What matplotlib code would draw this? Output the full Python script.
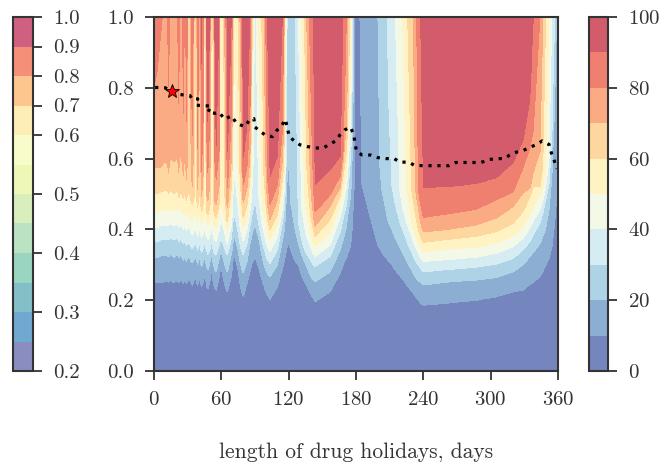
import matplotlib
matplotlib.use("Agg")
import matplotlib.pyplot as plt
import numpy as np
from matplotlib.cm import ScalarMappable
from matplotlib.colors import BoundaryNorm, ListedColormap

plt.rcParams['font.family'] = ['cmr10', 'DejaVu Serif']
plt.rcParams['axes.unicode_minus'] = False
plt.rcParams['axes.formatter.use_mathtext'] = True

# N = contour not reached inside the plot
N = 3.0

# contour heights: one row per day,
# columns are the heights of the 10, 20, ... 90 % contours
contour_rows = [
    (0, [.249, .319, .365, .403, .45, .50, .573, .80, N]),
    (3, [.249, .32, .365, .405, .45, .50, .573, .85, N]),
    (6, [.25, .325, .37, .41, .455, .505, .575, .95, N]),
    (7.4, [.25, .325, .37, .41, .455, .505, .58, 1.0, N]),
    (9, [.252, .327, .37, .41, .455, .51, .59, N, N]),
    (12, [.253, .325, .372, .41, .455, .51, .585, 1.0, N]),
    (13, [.25, .322, .37, .41, .45, .50, .56, .80, N]),
    (14, [.254, .328, .375, .415, .46, .51, .59, 1.0, N]),
    (15, [.256, .33, .375, .415, .46, .51, .60, N, N]),
    (17.5, [.25, .32, .37, .41, .45, .50, .59, N, N]),
    (21, [.256, .33, .375, .415, .46, .51, .60, 1.0, N]),
    (22, [.25, .32, .365, .405, .45, .49, .56, .75, N]),
    (23, [.255, .325, .37, .41, .455, .50, .60, 1.0, N]),
    (24, [.256, .325, .37, .41, .455, .505, .61, N, N]),
    (25.3, [.25, .32, .365, .405, .45, .495, .58, 1.0, N]),
    (26.2, [.248, .312, .36, .40, .44, .485, .55, .72, N]),
    (27, [.255, .32, .365, .405, .45, .50, .60, 1.0, N]),
    (27.5, [.257, .32, .365, .405, .45, .50, .62, N, N]),
    (28.2, [.25, .315, .36, .40, .44, .49, .58, 1.0, N]),
    (29, [.247, .31, .355, .395, .435, .48, .54, .70, N]),
    (29.8, [.255, .32, .36, .405, .445, .50, .60, 1.0, N]),
    (31.5, [.26, .32, .36, .405, .445, .50, N, N, N]),
    (33, [.25, .31, .35, .39, .43, .48, .60, 1.0, N]),
    (34, [.242, .305, .345, .385, .425, .47, .52, .66, N]),
    (35, [.25, .31, .35, .39, .43, .48, .60, 1.0, N]),
    (35.7, [.256, .315, .355, .395, .44, .49, 1.0, N, N]),
    (37, [.262, .32, .36, .40, .445, .90, N, N, N]),
    (38.2, [.25, .31, .35, .39, .43, .48, 1.0, N, N]),
    (38.7, [.24, .30, .34, .38, .42, .46, .51, .62, N]),
    (40, [.256, .315, .355, .395, .44, .49, .60, 1.0, N]),
    (40.7, [.265, .32, .36, .40, .445, .50, N, N, N]),
    (41.5, [.25, .305, .345, .385, .43, .47, .60, 1.0, N]),
    (42.4, [.238, .295, .335, .375, .415, .45, .49, .56, .85]),
    (43.7, [.25, .305, .345, .385, .43, .47, .55, .70, N]),
    (44.5, [.26, .315, .355, .395, .44, 1.0, N, N, N]),
    (45.5, [.272, .32, .36, .40, .445, .90, N, N, N]),
    (46, [.262, .31, .35, .39, .435, 1.0, N, N, N]),
    (46.4, [.25, .30, .345, .385, .425, .46, 1.0, N, N]),
    (46.7, [.24, .295, .34, .38, .42, .45, .50, .70, 1.0]),
    (48, [.233, .285, .33, .37, .41, .44, .48, .56, .70]),
    (49.6, [.25, .30, .34, .38, .42, .46, .52, .70, 1.0]),
    (50, [.258, .31, .345, .385, .425, .47, .58, 1.0, N]),
    (50.3, [.265, .315, .35, .39, .43, .48, 1.0, N, N]),
    (50.6, [.272, .32, .355, .395, .435, 1.0, N, N, N]),
    (51.4, [.28, .323, .36, .398, .44, .90, N, N, N]),
    (53, [.25, .30, .34, .38, .42, 1.0, N, N, N]),
    (53.4, [.243, .295, .335, .375, .415, .45, 1.0, N, N]),
    (53.7, [.238, .29, .33, .37, .41, .44, .50, 1.0, N]),
    (54, [.235, .285, .33, .37, .41, .44, .48, .60, 1.0]),
    (55.4, [.229, .28, .328, .365, .404, .432, .469, .54, .63]),
    (58, [.265, .315, .355, .395, .435, .47, .52, .62, 1.0]),
    (58.3, [.27, .32, .36, .40, .44, .49, .60, 1.0, N]),
    (58.5, [.275, .325, .36, .405, .45, .51, 1.0, N, N]),
    (58.8, [.28, .33, .365, .41, .46, 1.0, N, N, N]),
    (60, [.29, .335, .37, .42, .47, N, N, N, N]),
    (62, [.26, .315, .355, .40, .44, 1.0, N, N, N]),
    (63, [.245, .30, .345, .39, .43, .50, 1.0, N, N]),
    (64, [.235, .29, .335, .37, .41, .46, .55, 1.0, N]),
    (65, [.226, .282, .33, .36, .40, .425, .47, .60, 1.0]),
    (65.5, [.224, .28, .328, .36, .398, .422, .46, .517, .615]),
    (69, [.27, .33, .375, .41, .46, .52, .60, .72, 1.0]),
    (69.7, [.29, .345, .40, .44, .50, .58, .72, 1.0, N]),
    (70.3, [.31, .36, .42, .49, .60, .75, 1.0, N, N]),
    (70.8, [.32, .37, .43, .52, .70, 1.0, N, N, N]),
    (72, [.325, .38, .44, .55, .95, N, N, N, N]),
    (75, [.285, .34, .39, .46, .55, 1.0, N, N, N]),
    (76.5, [.25, .31, .36, .41, .47, .56, 1.0, N, N]),
    (78, [.225, .29, .34, .385, .43, .48, .60, 1.0, N]),
    (79, [.215, .28, .33, .37, .41, .44, .49, .56, 1.0]),
    (79.6, [.21, .277, .328, .365, .404, .432, .474, .525, .60]),
    (83, [.25, .31, .36, .40, .43, .47, .52, .58, .70]),
    (85.5, [.28, .36, .41, .45, .50, .54, .60, .72, 1.0]),
    (86.3, [.29, .37, .42, .47, .53, .60, .75, 1.0, N]),
    (87, [.30, .38, .43, .50, .58, .78, 1.0, N, N]),
    (87.7, [.305, .39, .45, .54, .70, 1.0, N, N, N]),
    (88.5, [.31, .40, .46, .60, 1.0, N, N, N, N]),
    (89.5, [.32, .41, .47, 1.0, N, N, N, N, N]),
    (90, [.323, .412, .48, N, N, N, N, N, N]),
    (91, [.315, .40, .46, 1.0, N, N, N, N, N]),
    (93, [.295, .38, .42, .50, 1.0, N, N, N, N]),
    (96, [.26, .33, .37, .42, .50, 1.0, N, N, N]),
    (98, [.24, .30, .345, .39, .45, .55, 1.0, N, N]),
    (99.5, [.225, .285, .33, .37, .42, .48, .60, 1.0, N]),
    (101, [.215, .275, .315, .35, .395, .43, .47, .55, 1.0]),
    (103.4, [.203, .266, .304, .337, .37, .398, .427, .469, .549]),
    (110, [.238, .30, .342, .379, .412, .44, .483, .525, .605]),
    (114.5, [.29, .37, .42, .46, .50, .54, .60, .68, 1.0]),
    (115.5, [.30, .385, .44, .49, .53, .58, .68, 1.0, N]),
    (116, [.31, .40, .46, .51, .56, .64, 1.0, N, N]),
    (116.7, [.32, .42, .49, .55, .63, 1.0, N, N, N]),
    (117.3, [.33, .45, .53, .62, 1.0, N, N, N, N]),
    (118, [.34, .50, .62, 1.0, N, N, N, N, N]),
    (118.6, [.35, .54, 1.0, N, N, N, N, N, N]),
    (120, [.36, .58, N, N, N, N, N, N, N]),
    (122, [.34, .47, N, N, N, N, N, N, N]),
    (125.7, [.31, .40, 1.0, N, N, N, N, N, N]),
    (128.6, [.30, .36, .42, 1.0, N, N, N, N, N]),
    (131.5, [.27, .33, .37, .46, 1.0, N, N, N, N]),
    (134, [.255, .31, .345, .41, .50, 1.0, N, N, N]),
    (136, [.24, .295, .33, .38, .44, .58, 1.0, N, N]),
    (138.5, [.225, .275, .32, .36, .41, .47, .62, 1.0, N]),
    (140, [.215, .265, .31, .345, .38, .43, .50, .75, N]),
    (142, [.205, .258, .30, .33, .36, .40, .44, .52, 1.0]),
    (143.5, [.196, .252, .295, .323, .351, .379, .408, .448, .525]),
    (157, [.224, .28, .323, .356, .39, .427, .464, .497, .568]),
    (166, [.277, .342, .393, .436, .474, .495, .52, .55, .605]),
    (168.5, [.30, .37, .43, .47, .51, .55, .59, .62, 1.0]),
    (171.6, [.32, .41, .47, .52, .57, .62, .70, 1.0, N]),
    (173, [.335, .45, .52, .58, .64, .75, 1.0, N, N]),
    (174.5, [.345, .48, .57, .66, .78, 1.0, N, N, N]),
    (175.7, [.37, .52, .64, .80, 1.0, N, N, N, N]),
    (176.5, [.40, .60, .80, 1.0, N, N, N, N, N]),
    (177.3, [.45, .75, 1.0, N, N, N, N, N, N]),
    (178, [.50, 1.0, N, N, N, N, N, N, N]),
    (178.6, [.53, N, N, N, N, N, N, N, N]),
    (179, [1.0, N, N, N, N, N, N, N, N]),
    (180, [1.3, N, N, N, N, N, N, N, N]),
    (183.5, [1.0, N, N, N, N, N, N, N, N]),
    (185, [.53, N, N, N, N, N, N, N, N]),
    (192.5, [.436, N, N, N, N, N, N, N, N]),
    (199.5, [.355, 1.0, N, N, N, N, N, N, N]),
    (201.3, [.345, .576, N, N, N, N, N, N, N]),
    (203, [.335, .511, N, N, N, N, N, N, N]),
    (208, [.315, .43, 1.0, N, N, N, N, N, N]),
    (209, [.31, .42, .765, N, N, N, N, N, N]),
    (212, [.30, .40, .52, N, N, N, N, N, N]),
    (215, [.285, .375, .47, 1.0, N, N, N, N, N]),
    (219, [.27, .35, .42, .511, N, N, N, N, N]),
    (221.5, [.26, .335, .40, .46, 1.0, N, N, N, N]),
    (225, [.245, .31, .37, .42, .511, N, N, N, N]),
    (226, [.24, .305, .36, .41, .50, 1.0, N, N, N]),
    (229.6, [.225, .285, .335, .38, .42, .511, N, N, N]),
    (231, [.22, .275, .325, .365, .405, .48, 1.0, N, N]),
    (233, [.21, .265, .31, .35, .385, .44, .511, N, N]),
    (234, [.205, .26, .305, .345, .375, .425, .49, 1.0, N]),
    (235.6, [.20, .255, .30, .335, .36, .40, .46, .511, N]),
    (237.5, [.193, .25, .29, .32, .35, .38, .42, .47, 1.0]),
    (240, [.186, .243, .28, .309, .335, .363, .392, .433, .516]),
    (264, [.193, .252, .287, .315, .344, .372, .40, .444, .52]),
    (287, [.20, .257, .293, .321, .349, .38, .412, .456, .528]),
    (305, [.21, .264, .302, .332, .36, .393, .431, .483, .545]),
    (320, [.224, .28, .318, .351, .381, .417, .464, .505, .587]),
    (329, [.229, .30, .342, .375, .408, .45, .503, .575, .653]),
    (335, [.245, .323, .365, .403, .441, .493, .515, .63, .765]),
    (338, [.25, .335, .385, .425, .465, .52, .56, .68, 1.0]),
    (344, [.268, .36, .418, .455, .497, .52, .62, 1.0, N]),
    (346.5, [.28, .38, .446, .483, .52, .58, 1.0, N, N]),
    (349, [.30, .403, .483, .515, .57, 1.0, N, N, N]),
    (352, [.319, .455, .53, .60, 1.0, N, N, N, N]),
    (354.5, [.347, .55, .65, 1.0, N, N, N, N, N]),
    (357, [.418, .75, 1.0, N, N, N, N, N, N]),
    (358.7, [.483, 1.0, N, N, N, N, N, N, N]),
    (360, [.62, N, N, N, N, N, N, N, N]),
]

percent_levels = [0, 10, 20, 30, 40, 50, 60, 70, 80, 90, 100]
percent_colors = ['#7585bd', '#8caed3', '#aed2e6', '#d6ecf3', '#f3f8e7',
                  '#fff3c3', '#fdd6a0', '#fbab84', '#ef8070', '#d25c6c']

share_levels = [.2, .25, .3, .35, .4, .45, .5, .55, .6, .7, .8, .9, 1.0]
share_ticks = [.2, .3, .4, .5, .6, .7, .8, .9, 1.0]
share_colors = ['#8a8dc0', '#6fa8d0', '#82bfc7', '#99d5c1', '#bbe2c3', '#d8eebc',
                '#eef7b5', '#f8fccb', '#fdeeb5', '#fdc68f', '#f68f78', '#d0607f']

# dotted optimum line
line_days = [1, 10, 15.7, 23, 32, 34.5, 39, 37.4, 45, 51, 48, 54.5, 58, 63, 69, 73.5,
             81, 85.5, 89, 90, 94.5, 99.5, 105.5, 109, 114, 117, 119, 120.5, 125,
             130, 136.6, 143.5, 151, 156, 162, 166, 170, 175, 178, 179, 180.5, 185.6,
             193, 199, 206.5, 214, 219, 227, 232, 240, 247, 255, 263, 269, 276, 284,
             291.5, 298, 304.5, 312, 317, 322.7, 329, 335, 341, 346, 352, 354, 356.7, 359]
line_share = [.801, .80, .791, .781, .778, .767, .769, .751, .749, .749, .731, .728, .731,
              .711, .721, .70, .69, .711, .713, .689, .677, .666, .662, .678, .694, .711,
              .685, .662, .65, .639, .634, .63, .63, .64, .65, .668, .681, .689, .668,
              .645, .62, .61, .61, .603, .60, .60, .59, .59, .581, .58, .58, .58, .58,
              .589, .589, .589, .589, .597, .60, .60, .61, .618, .623, .632, .64, .65,
              .64, .617, .594, .571]
star_day = 15.7
star_share = .791

x_ticks = [0, 60, 120, 180, 240, 300, 360]
y_ticks = [0, .2, .4, .6, .8, 1.0]

days = np.array([row[0] for row in contour_rows])
heights = np.array([row[1] for row in contour_rows])

# carry each contour across a fine day grid, then turn the heights
# of every column into percent values
day_grid = np.union1d(np.linspace(0, 360, 1441), days)
y_grid = np.linspace(0, 1, 601)
field = np.zeros((len(y_grid), len(day_grid)))
fine_heights = np.array([np.interp(day_grid, days, heights[:, k]) for k in range(9)]).T
for i in range(len(day_grid)):
    h = np.maximum.accumulate(fine_heights[i]) + np.arange(9) * 1e-4
    xp = np.concatenate([[0], h, [3.2]])
    field[:, i] = np.interp(y_grid, xp, percent_levels)

dark = '#333333'
W, H = 660.0, 462.0
fig = plt.figure(figsize=(6.6, 4.62), dpi=100)


def px_axes(left, top, right, bottom):
    return fig.add_axes([left / W, 1 - bottom / H, (right - left) / W, (bottom - top) / H])


ax = px_axes(154, 17, 558, 371)
left_cax = px_axes(13, 17, 33, 371)
right_cax = px_axes(589, 17, 608, 371)

cs = ax.contourf(day_grid, y_grid, field, levels=percent_levels, colors=percent_colors)
ax.plot(line_days, line_share, color='black', lw=2.3, linestyle=(0, (1, 1.8)))
ax.plot([star_day], [star_share], marker='*', ms=10, color='red', mec='black', mew=0.6)

ax.set_xlim(0, 360)
ax.set_ylim(0, 1)
ax.set_xticks(x_ticks)
ax.set_yticks(y_ticks)
ax.set_yticklabels(['%.1f' % v for v in y_ticks])
ax.set_xlabel('length of drug holidays, days', fontsize=15.5, color=dark, labelpad=24)

share_cb = fig.colorbar(ScalarMappable(norm=BoundaryNorm(share_levels, len(share_colors)),
                                       cmap=ListedColormap(share_colors)),
                        cax=left_cax, spacing='uniform', ticks=share_ticks)
share_cb.ax.set_yticklabels(['%.1f' % v for v in share_ticks])
percent_cb = fig.colorbar(cs, cax=right_cax, ticks=[0, 20, 40, 60, 80, 100])

for a in [ax, left_cax, right_cax]:
    a.tick_params(length=6.5, width=1.3, color=dark, labelcolor=dark, labelsize=15, pad=8)
    a.minorticks_off()
    for s in a.spines.values():
        s.set_linewidth(1.5)
        s.set_color(dark)
share_cb.outline.set_linewidth(1.5)
share_cb.outline.set_edgecolor(dark)
percent_cb.outline.set_linewidth(1.5)
percent_cb.outline.set_edgecolor(dark)

fig.savefig('out.png', dpi=100)
